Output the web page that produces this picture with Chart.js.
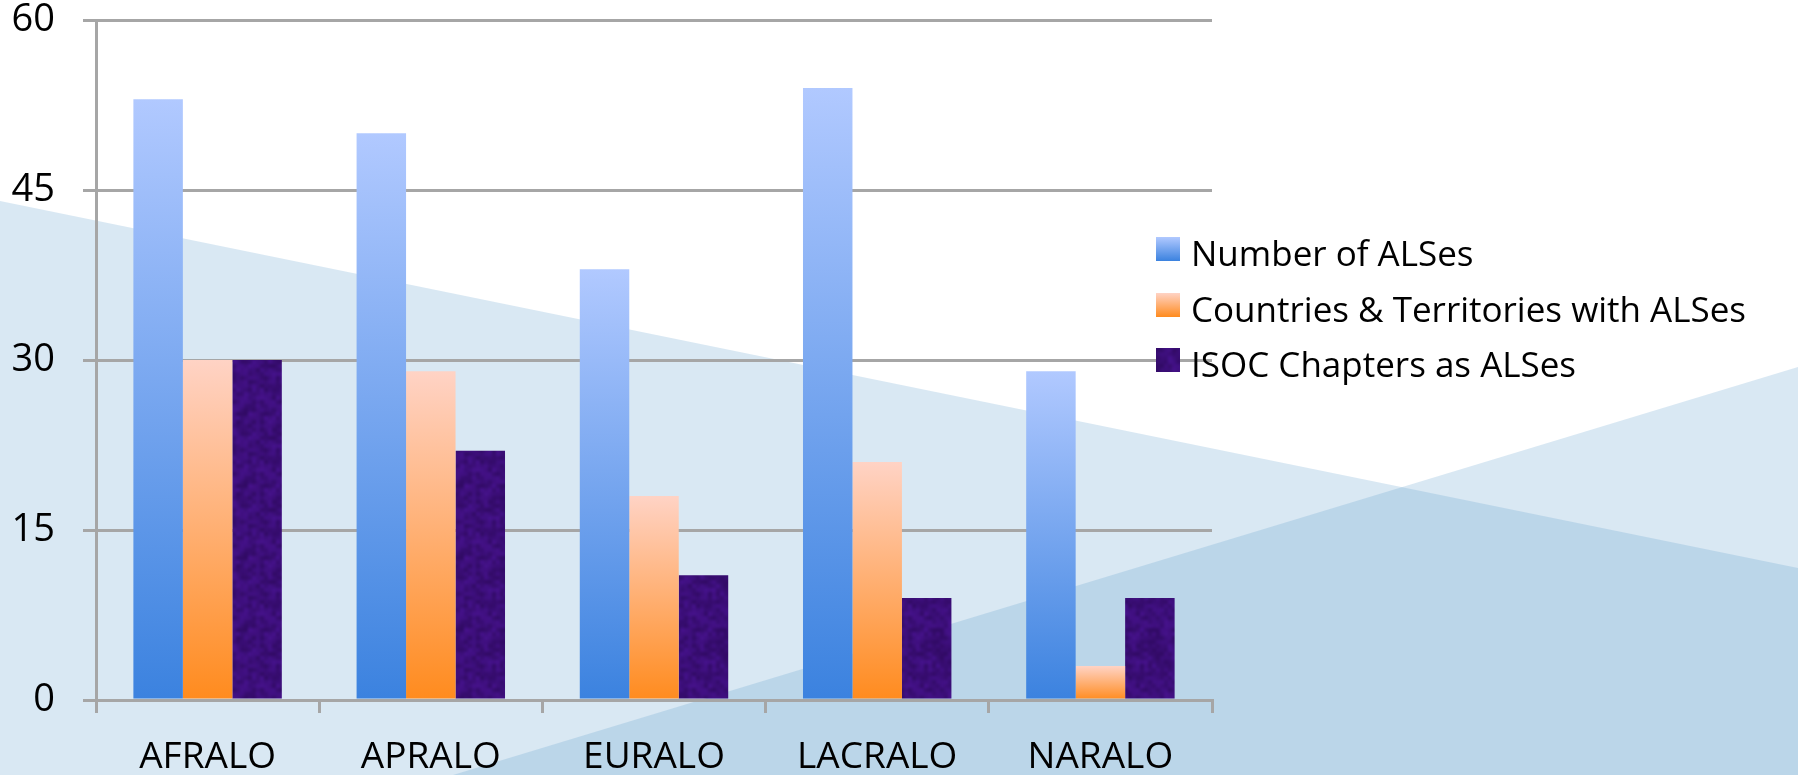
<!DOCTYPE html>
<html>
<head>
<meta charset="utf-8">
<script src="https://cdn.jsdelivr.net/npm/chart.js@4.4.0/dist/chart.umd.min.js"></script>
<style>
    html, body { margin: 0; padding: 0; background: #ffffff; }
    #wrap { width: 1798px; height: 775px; position: relative; }
</style>
</head>
<body>
<div id="wrap"><canvas id="graph"></canvas></div>
<script>
// Donnees du graphique
const regions = ["AFRALO", "APRALO", "EURALO", "LACRALO", "NARALO"];
const nbAlses = [53, 50, 38, 54, 29];
const nbPays = [30, 29, 18, 21, 3];
const nbIsoc = [30, 22, 11, 9, 9];
const seriesNames = ["Number of ALSes", "Countries & Territories with ALSes", "ISOC Chapters as ALSes"];
const yTicks = [0, 15, 30, 45, 60];

const FONT = "'Open Sans', 'Noto Sans', sans-serif";
const GRID = "#a6a6a6";

// Texture violette (bruit deterministe, adouci)
function makePurplePattern(ctx) {
    let size = 72;
    let c = document.createElement("canvas");
    c.width = size; c.height = size;
    let p = c.getContext("2d");
    p.fillStyle = "#3a0d74";
    p.fillRect(0, 0, size, size);
    for (let y = 0; y < size; y += 4) {
        for (let x = 0; x < size; x += 4) {
            let n = Math.sin(x * 12.9898 + y * 78.233) * 43758.5453;
            n = n - Math.floor(n);
            let r = 42 + Math.round(n * 36);
            let g = 8 + Math.round(n * 14);
            let b = 88 + Math.round(n * 70);
            p.fillStyle = "rgba(" + r + "," + g + "," + b + ",0.6)";
            p.fillRect(x, y, 4, 4);
        }
    }
    // on repete 3x3 puis on floute le tout, pour eviter les coutures
    let big = document.createElement("canvas");
    big.width = size * 3; big.height = size * 3;
    let pb = big.getContext("2d");
    for (let i = 0; i < 3; i++) {
        for (let j = 0; j < 3; j++) {
            pb.drawImage(c, i * size, j * size);
        }
    }
    let c2 = document.createElement("canvas");
    c2.width = size; c2.height = size;
    let p2 = c2.getContext("2d");
    p2.filter = "blur(1.5px)";
    p2.drawImage(big, -size, -size);
    return ctx.createPattern(c2, "repeat");
}

// Degrade vertical par barre
function barGradient(context, top, bottom) {
    let chart = context.chart;
    if (!chart.chartArea || !chart.scales.y) return bottom;
    let yScale = chart.scales.y;
    let yTop = yScale.getPixelForValue(context.raw);
    let yBase = yScale.getPixelForValue(0);
    if (!isFinite(yTop) || yTop === yBase) return bottom;
    let g = chart.ctx.createLinearGradient(0, yTop, 0, yBase);
    g.addColorStop(0, top);
    g.addColorStop(1, bottom);
    return g;
}

let purple = null;

// Fond bleu avec les deux triangles
const backgroundPlugin = {
    id: "fond",
    beforeDraw(chart) {
        let c = chart.ctx;
        let w = chart.width, h = chart.height;
        c.save();
        c.fillStyle = "#ffffff";
        c.fillRect(0, 0, w, h);
        c.fillStyle = "rgba(90, 155, 203, 0.23)";
        c.beginPath();
        c.moveTo(0, 201);
        c.lineTo(w, 568);
        c.lineTo(w, h);
        c.lineTo(0, h);
        c.closePath();
        c.fill();
        c.beginPath();
        c.moveTo(453, h);
        c.lineTo(w, 367);
        c.lineTo(w, h);
        c.closePath();
        c.fill();
        c.restore();
    }
};

// Legende dessinee a droite, par-dessus la grille
const legendPlugin = {
    id: "legende",
    afterDraw(chart) {
        let c = chart.ctx;
        let x0 = 1156, boxSize = 24, rowY = [249, 305, 360];
        c.save();
        chart.data.datasets.forEach((ds, i) => {
            let yc = rowY[i];
            let fill;
            if (i === 0) {
                fill = c.createLinearGradient(0, yc - 12, 0, yc + 12);
                fill.addColorStop(0, "#b1c9ff");
                fill.addColorStop(1, "#3b82df");
            } else if (i === 1) {
                fill = c.createLinearGradient(0, yc - 12, 0, yc + 12);
                fill.addColorStop(0, "#ffd3c5");
                fill.addColorStop(1, "#ff8b1e");
            } else {
                fill = purple;
            }
            c.fillStyle = fill;
            c.fillRect(x0, yc - boxSize / 2, boxSize, boxSize);
            c.fillStyle = "#000000";
            c.font = "35px " + FONT;
            c.textBaseline = "alphabetic";
            c.textAlign = "left";
            c.fillText(ds.label, 1191, yc + 17);
        });
        c.restore();
    }
};

window.onload = function () {
    let canvas = document.getElementById("graph");
    purple = makePurplePattern(canvas.getContext("2d"));

    let config = {
        type: "bar",
        data: {
            labels: regions,
            datasets: [
                {
                    label: seriesNames[0],
                    data: nbAlses,
                    backgroundColor: ctx => barGradient(ctx, "#b1c9ff", "#3b82df")
                },
                {
                    label: seriesNames[1],
                    data: nbPays,
                    backgroundColor: ctx => barGradient(ctx, "#ffd3c5", "#ff8b1e")
                },
                {
                    label: seriesNames[2],
                    data: nbIsoc,
                    backgroundColor: () => purple
                }
            ]
        },
        options: {
            responsive: true,
            maintainAspectRatio: false,
            animation: false,
            categoryPercentage: 0.665,
            barPercentage: 1.0,
            layout: { padding: { top: 20, right: 586, left: 0, bottom: 0 } },
            plugins: {
                legend: { display: false },
                tooltip: { enabled: false }
            },
            scales: {
                x: {
                    grid: { drawOnChartArea: false, drawTicks: true, tickLength: 13, color: GRID, lineWidth: 3 },
                    border: { display: true, color: GRID, width: 3 },
                    ticks: { color: "#000000", font: { family: FONT, size: 37 }, padding: 22 },
                    afterFit(scale) { scale.height = 75; scale.paddingLeft = 0; scale.paddingRight = 0; }
                },
                y: {
                    min: 0,
                    max: 60,
                    afterBuildTicks(scale) { scale.ticks = yTicks.map(v => ({ value: v })); },
                    grid: { color: GRID, lineWidth: 3, tickLength: 13 },
                    border: { display: true, color: GRID, width: 3 },
                    ticks: { color: "#000000", font: { family: FONT, size: 38 }, padding: 28 },
                    afterFit(scale) { scale.width = 96; scale.paddingTop = 0; scale.paddingBottom = 0; }
                }
            }
        },
        plugins: [backgroundPlugin, legendPlugin]
    };

    new Chart(canvas, config);
};
</script>
</body>
</html>
